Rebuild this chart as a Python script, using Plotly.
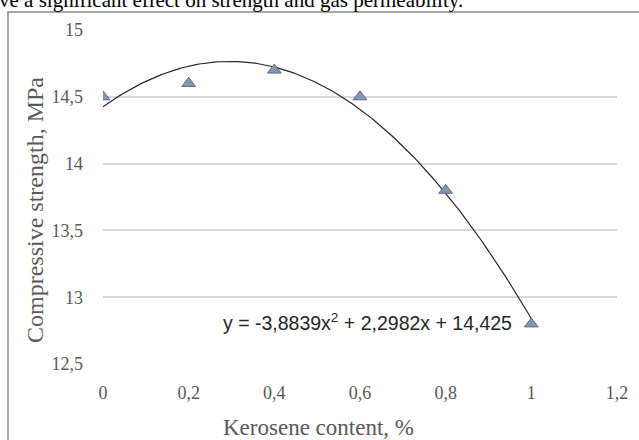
import numpy as np
import plotly.graph_objects as go

kerosene = [0, 0.2, 0.4, 0.6, 0.8, 1.0]
strength = [14.5, 14.6, 14.7, 14.5, 13.8, 12.8]
trend_coeffs = [-3.8839, 2.2982, 14.425]
x_ticks = [0, 0.2, 0.4, 0.6, 0.8, 1.0, 1.2]
x_tick_labels = ["0", "0,2", "0,4", "0,6", "0,8", "1", "1,2"]
y_ticks = [12.5, 13, 13.5, 14, 14.5, 15]
y_tick_labels = ["12,5", "13", "13,5", "14", "14,5", "15"]

W, H = 639, 440
L, R, T, B = 103, 22, 30, 76
pw, ph = W - L - R, H - T - B

def px(x):
    return (x - L) / pw

def py(y):
    return (H - B - y) / ph

xt = np.linspace(0, 1, 201)
yt = np.polyval(trend_coeffs, xt)

fig = go.Figure()
fig.add_trace(go.Scatter(x=xt, y=yt, mode="lines",
                         line=dict(color="#262626", width=1.2),
                         hoverinfo="skip", showlegend=False))
fig.add_trace(go.Scatter(x=kerosene, y=strength, mode="markers",
                         marker=dict(symbol="triangle-up", size=12, color="#8496B0",
                                     line=dict(color="#5B6E8A", width=1)),
                         showlegend=False))

fig.add_shape(type="rect", xref="paper", yref="paper",
              x0=px(8), x1=px(700), y0=py(500), y1=py(12),
              line=dict(color="#8c8c8c", width=1.5), fillcolor="rgba(0,0,0,0)", layer="below")

fig.add_annotation(xref="paper", yref="paper", x=px(-3), y=py(0), xanchor="left", yanchor="middle",
                   text="ve a significant effect on strength and gas permeability.",
                   showarrow=False, font=dict(family="Liberation Serif", size=21, color="#000000"))
fig.add_annotation(xref="paper", yref="paper", x=px(221), y=py(322), xanchor="left", yanchor="middle",
                   text="y = -3,8839x<sup>2</sup> + 2,2982x + 14,425",
                   showarrow=False, font=dict(family="Liberation Sans", size=19.5, color="#262626"))
fig.add_annotation(xref="paper", yref="paper", x=px(35), y=py(210), xanchor="center", yanchor="middle",
                   text="Compressive strength, MPa", textangle=-90,
                   showarrow=False, font=dict(family="Liberation Serif", size=24, color="#595959"))
fig.add_annotation(xref="paper", yref="paper", x=px(318), y=py(427), xanchor="center", yanchor="middle",
                   text="Kerosene content, %",
                   showarrow=False, font=dict(family="Liberation Serif", size=23, color="#595959"))

fig.update_layout(
    width=W, height=H,
    margin=dict(l=L, r=R, t=T, b=B),
    paper_bgcolor="white", plot_bgcolor="white",
    xaxis=dict(range=[0, 1.2], tickvals=x_ticks, ticktext=x_tick_labels,
               showgrid=False, zeroline=False, showline=False, ticks="",
               tickfont=dict(family="Liberation Serif", size=18, color="#595959"),
               ticklabelstandoff=16),
    yaxis=dict(range=[12.5, 15], tickvals=y_ticks, ticktext=y_tick_labels,
               showgrid=True, gridcolor="#d9d9d9", gridwidth=1.5, zeroline=False, showline=False,
               ticks="", tickfont=dict(family="Liberation Serif", size=18, color="#595959"),
               ticklabelstandoff=19),
)

fig.write_html("out.html")
